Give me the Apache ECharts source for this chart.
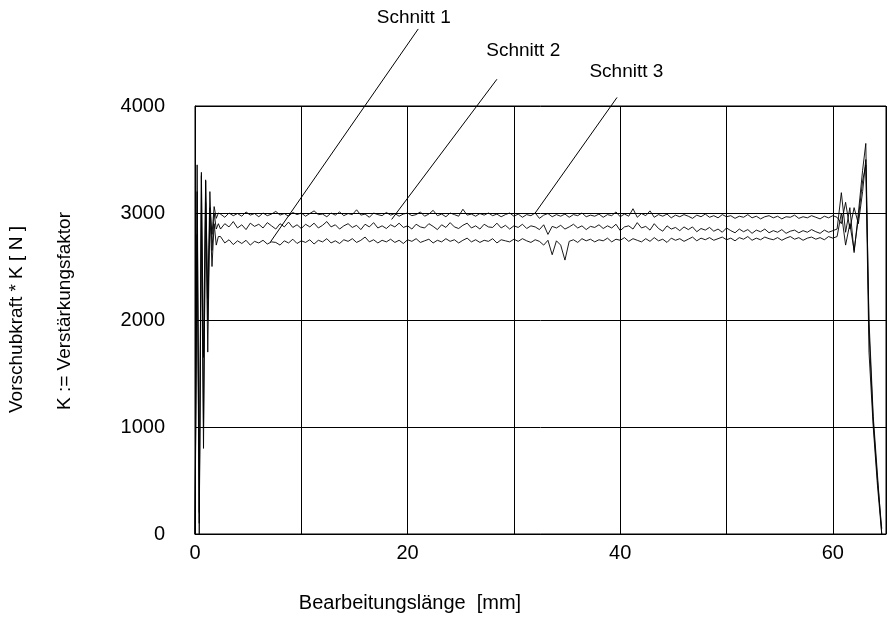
<!DOCTYPE html>
<html>
<head>
<meta charset="utf-8">
<script src="https://cdn.jsdelivr.net/npm/echarts@6/dist/echarts.min.js"></script>
<style>
html, body { margin: 0; padding: 0; background: #fff; }
#chart { width: 889px; height: 623px; }
</style>
</head>
<body>
<div id="chart"></div>
<script>
// Bearbeitungslänge [mm] – Messpunkte
var distance = [
	0, 0.2, 0.4, 0.6, 0.8, 1.0, 1.2, 1.4, 1.6, 1.8, 2.0, 2.2,
	2.4, 2.8, 3.2, 3.6, 4.0, 4.4, 4.8, 5.2, 5.6, 6.0,
	6.4, 6.8, 7.2, 7.6, 8.0, 8.4, 8.8, 9.2, 9.6, 10.0,
	10.4, 10.8, 11.2, 11.6, 12.0, 12.4, 12.8, 13.2, 13.6, 14.0,
	14.4, 14.8, 15.2, 15.6, 16.0, 16.4, 16.8, 17.2, 17.6, 18.0,
	18.4, 18.8, 19.2, 19.6, 20.0, 20.4, 20.8, 21.2, 21.6, 22.0,
	22.4, 22.8, 23.2, 23.6, 24.0, 24.4, 24.8, 25.2, 25.6, 26.0,
	26.4, 26.8, 27.2, 27.6, 28.0, 28.4, 28.8, 29.2, 29.6, 30.0,
	30.4, 30.8, 31.2, 31.6, 32.0, 32.4, 32.8, 33.2, 33.6, 34.0,
	34.4, 34.8, 35.2, 35.6, 36.0, 36.4, 36.8, 37.2, 37.6, 38.0,
	38.4, 38.8, 39.2, 39.6, 40.0, 40.4, 40.8, 41.2, 41.6, 42.0,
	42.4, 42.8, 43.2, 43.6, 44.0, 44.4, 44.8, 45.2, 45.6, 46.0,
	46.4, 46.8, 47.2, 47.6, 48.0, 48.4, 48.8, 49.2, 49.6, 50.0,
	50.4, 50.8, 51.2, 51.6, 52.0, 52.4, 52.8, 53.2, 53.6, 54.0,
	54.4, 54.8, 55.2, 55.6, 56.0, 56.4, 56.8, 57.2, 57.6, 58.0,
	58.4, 58.8, 59.2, 59.6, 60.0,
	60.4, 60.8, 61.2, 61.6, 62.0, 62.4, 62.8, 63.1, 63.4, 63.8, 64.2, 64.6
];

// Vorschubkraft * K [N]
var schnitt1 = [
	0, 3450, 200, 3350, 1000, 3100, 1700, 3000, 2500, 2900, 2700, 2780,
	2780, 2720, 2750, 2705, 2740, 2715, 2745, 2700, 2735, 2720,
	2745, 2710, 2730, 2725, 2700, 2740, 2720, 2755, 2715, 2740,
	2725, 2750, 2710, 2745, 2730, 2760, 2720, 2740, 2715, 2750,
	2735, 2760, 2725, 2745, 2775, 2730, 2750, 2720, 2745, 2730,
	2755, 2725, 2745, 2715, 2750, 2735, 2760, 2725, 2740, 2755,
	2720, 2745, 2730, 2760, 2735, 2750, 2720, 2745, 2765, 2730,
	2750, 2725, 2745, 2735, 2760, 2720, 2750, 2740, 2730, 2755,
	2735, 2760, 2740, 2725, 2750, 2735, 2700, 2745, 2610, 2740,
	2700, 2560, 2735, 2750, 2725, 2760, 2740, 2755, 2730, 2750,
	2740, 2765, 2730, 2755, 2745, 2770, 2735, 2760, 2745, 2730,
	2760, 2735, 2770, 2740, 2755, 2725, 2765, 2745, 2760, 2735,
	2755, 2775, 2740, 2765, 2750, 2770, 2745, 2760, 2775, 2750,
	2765, 2740, 2770, 2755, 2780, 2745, 2765, 2750, 2775, 2760,
	2750, 2770, 2745, 2765, 2780, 2755, 2770, 2745, 2765, 2775,
	2755, 2770, 2750, 2780, 2765,
	2780, 3000, 2700, 2900, 2650, 2950, 3300, 3450, 1700, 1000, 450, 0
];

var schnitt2 = [
	0, 2800, 0, 3380, 1650, 3300, 2200, 3200, 2650, 3000, 2850, 2900,
	2850, 2900, 2870, 2920, 2860, 2890, 2845, 2905, 2875, 2895,
	2860, 2910, 2880, 2850, 2900, 2870, 2915, 2865, 2890, 2855,
	2895, 2870, 2905, 2860, 2885, 2920, 2870, 2890, 2850, 2880,
	2900, 2865, 2885, 2845, 2895, 2870, 2910, 2860, 2880, 2855,
	2890, 2870, 2905, 2865, 2880, 2850, 2895, 2870, 2860, 2900,
	2875, 2845, 2890, 2865, 2910, 2870, 2855, 2885, 2905, 2860,
	2880, 2850, 2895, 2870, 2865, 2905, 2860, 2885, 2850, 2880,
	2865, 2895, 2855, 2880, 2870, 2845, 2890, 2800, 2875, 2860,
	2885, 2850, 2870, 2895, 2860, 2880, 2845, 2875, 2865, 2890,
	2855, 2880, 2860, 2895, 2835, 2870, 2880, 2850, 2910, 2860,
	2875, 2840, 2900, 2855, 2830, 2880, 2850, 2865, 2835, 2870,
	2845, 2870, 2825, 2855, 2840, 2865, 2830, 2850, 2820, 2860,
	2835, 2815, 2850, 2825, 2845, 2810, 2840, 2825, 2850, 2815,
	2835, 2820, 2845, 2810, 2830, 2840, 2815, 2835, 2820, 2845,
	2825, 2810, 2840, 2820, 2835,
	2850, 3190, 2820, 3050, 2630, 3000, 3400, 3650, 1900, 1050, 500, 50
];

var schnitt3 = [
	0, 3200, 100, 3000, 800, 3310, 2000, 3050, 2800, 3060, 2950, 3000,
	2990, 2960, 3000, 2975, 2995, 2970, 3010, 2980, 2995, 2965,
	3000, 2975, 2990, 3015, 2980, 2995, 2970, 3005, 2985, 3000,
	2970, 2995, 3020, 2985, 2990, 2965, 3000, 2980, 3010, 2975,
	2995, 2985, 3030, 2980, 2990, 2960, 3000, 2985, 2975, 3005,
	2980, 2995, 2970, 2990, 3000, 2975, 2985, 3010, 2970, 2990,
	3025, 2975, 2990, 2965, 3000, 2985, 2970, 3035, 2980, 2990,
	2970, 2995, 2980, 3000, 2975, 2990, 2965, 2985, 3000, 2970,
	2990, 2960, 2985, 2975, 3000, 2950, 2980, 2995, 2965, 2985,
	2970, 2990, 2960, 2985, 2975, 3000, 2965, 2980, 2970, 2990,
	2960, 2985, 2975, 3010, 2965, 2990, 2970, 3040, 2960, 2995,
	2975, 3020, 2960, 2985, 2970, 2990, 2955, 2980, 2965, 2985,
	2970, 2950, 2980, 2965, 2990, 2960, 2975, 2955, 2985, 2965,
	2975, 2950, 2970, 2960, 2985, 2955, 2970, 2945, 2965, 2975,
	2955, 2970, 2945, 2965, 2960, 2980, 2950, 2965, 2955, 2975,
	2960, 2945, 2970, 2955, 2975,
	2960, 2900, 3100, 2850, 3050, 2900, 3200, 3500, 2000, 1100, 550, 0
];

var xTicks = [0, 20, 40, 60];

// Beschriftungen mit Hinweislinien (Datenkoordinaten)
var labelNames = ['Schnitt 1', 'Schnitt 2', 'Schnitt 3'];
var labelPos = [[17.1, 4820], [27.4, 4520], [37.1, 4320]];
var leaderStart = [[21.0, 4720], [28.4, 4250], [39.7, 4080]];
var leaderEnd = [[7.1, 2730], [18.5, 2940], [32.0, 3000]];

function pairs(values) {
	return values.map(function(v, i) {
		return [distance[i], v];
	});
}

var font = 'Liberation Sans, Arial, sans-serif';
var chart = echarts.init(document.getElementById('chart'));

var lineSeries = [schnitt1, schnitt2, schnitt3].map(function(vals, i) {
	return {
		name: labelNames[i],
		type: 'line',
		data: pairs(vals),
		symbol: 'none',
		lineStyle: { color: '#000', width: 0.9 },
		animation: false
	};
});

chart.setOption({
	animation: false,
	grid: {
		left: 195, right: 3, top: 106, bottom: 89,
		show: true, borderColor: '#000', borderWidth: 1
	},
	xAxis: {
		type: 'value',
		min: 0, max: 65, interval: 10,
		axisLine: { show: true, lineStyle: { color: '#000' } },
		axisTick: { show: false },
		axisLabel: {
			color: '#000', fontFamily: font, fontSize: 20, margin: 9,
			formatter: function(v) {
				return xTicks.indexOf(v) >= 0 ? String(v) : '';
			}
		},
		splitLine: { show: true, lineStyle: { color: '#000', width: 1 } }
	},
	yAxis: {
		type: 'value',
		min: 0, max: 4000, interval: 1000,
		axisLine: { show: true, lineStyle: { color: '#000' } },
		axisTick: { show: false },
		axisLabel: {
			color: '#000', fontFamily: font, fontSize: 20, margin: 30,
			formatter: function(v) { return String(v); }
		},
		splitLine: { show: true, lineStyle: { color: '#000', width: 1 } }
	},
	series: lineSeries
});

var graphics = [];
labelNames.forEach(function(name, i) {
	var p0 = chart.convertToPixel({ gridIndex: 0 }, leaderStart[i]);
	var p1 = chart.convertToPixel({ gridIndex: 0 }, leaderEnd[i]);
	var pt = chart.convertToPixel({ gridIndex: 0 }, labelPos[i]);
	graphics.push({
		type: 'line',
		shape: { x1: p0[0], y1: p0[1], x2: p1[0], y2: p1[1] },
		style: { stroke: '#000', lineWidth: 1 }
	});
	graphics.push({
		type: 'text',
		x: pt[0], y: pt[1],
		style: { text: name, fill: '#000', font: '19px ' + font, textAlign: 'left', textVerticalAlign: 'middle' }
	});
});

graphics.push({
	type: 'text', x: 410, y: 603,
	style: { text: 'Bearbeitungslänge  [mm]', fill: '#000', font: '20px ' + font, textAlign: 'center', textVerticalAlign: 'middle' }
});
graphics.push({
	type: 'text', x: 17, y: 413, rotation: Math.PI / 2,
	style: { text: 'Vorschubkraft * K [ N ]', fill: '#000', font: '19px ' + font, textAlign: 'left', textVerticalAlign: 'middle' }
});
graphics.push({
	type: 'text', x: 65, y: 410, rotation: Math.PI / 2,
	style: { text: 'K := Verstärkungsfaktor', fill: '#000', font: '19px ' + font, textAlign: 'left', textVerticalAlign: 'middle' }
});

chart.setOption({ graphic: graphics });
</script>
</body>
</html>
